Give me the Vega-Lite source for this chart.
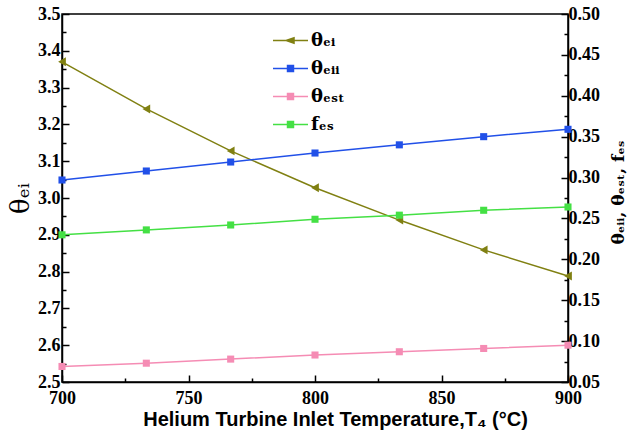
{
  "$schema": "https://vega.github.io/schema/vega-lite/v6.json",
  "autosize": {"type": "none"},
  "padding": {"left": 62, "top": 14, "right": 72, "bottom": 59},
  "width": 506,
  "height": 368,
  "background": "white",
  "config": {
    "view": {"stroke": "black", "strokeWidth": 1.5},
    "axis": {
      "domainColor": "black", "domainWidth": 1.5,
      "tickColor": "black", "tickWidth": 1.5,
      "labelFont": "Liberation Serif", "labelFontWeight": "bold", "labelFontSize": 18, "labelColor": "black",
      "labelFlush": false, "titleColor": "black", "grid": false
    }
  },
  "data": {"values": [
    {"T": 700, "series": "θₑᵢ", "v": 3.370},
    {"T": 733.33, "series": "θₑᵢ", "v": 3.242},
    {"T": 766.67, "series": "θₑᵢ", "v": 3.128},
    {"T": 800, "series": "θₑᵢ", "v": 3.028},
    {"T": 833.33, "series": "θₑᵢ", "v": 2.940},
    {"T": 866.67, "series": "θₑᵢ", "v": 2.859},
    {"T": 900, "series": "θₑᵢ", "v": 2.788},
    {"T": 700, "series": "θₑᵢᵢ", "v": 0.297},
    {"T": 733.33, "series": "θₑᵢᵢ", "v": 0.308},
    {"T": 766.67, "series": "θₑᵢᵢ", "v": 0.319},
    {"T": 800, "series": "θₑᵢᵢ", "v": 0.330},
    {"T": 833.33, "series": "θₑᵢᵢ", "v": 0.340},
    {"T": 866.67, "series": "θₑᵢᵢ", "v": 0.350},
    {"T": 900, "series": "θₑᵢᵢ", "v": 0.359},
    {"T": 700, "series": "θₑₛₜ", "v": 0.069},
    {"T": 733.33, "series": "θₑₛₜ", "v": 0.073},
    {"T": 766.67, "series": "θₑₛₜ", "v": 0.078},
    {"T": 800, "series": "θₑₛₜ", "v": 0.083},
    {"T": 833.33, "series": "θₑₛₜ", "v": 0.087},
    {"T": 866.67, "series": "θₑₛₜ", "v": 0.091},
    {"T": 900, "series": "θₑₛₜ", "v": 0.095},
    {"T": 700, "series": "fₑₛ", "v": 0.230},
    {"T": 733.33, "series": "fₑₛ", "v": 0.236},
    {"T": 766.67, "series": "fₑₛ", "v": 0.242},
    {"T": 800, "series": "fₑₛ", "v": 0.249},
    {"T": 833.33, "series": "fₑₛ", "v": 0.254},
    {"T": 866.67, "series": "fₑₛ", "v": 0.260},
    {"T": 900, "series": "fₑₛ", "v": 0.264}
  ]},
  "encoding": {
    "x": {
      "field": "T", "type": "quantitative",
      "scale": {"domain": [700, 900], "nice": false},
      "axis": {
        "values": [700, 725, 750, 775, 800, 825, 850, 875, 900],
        "labelExpr": "datum.value % 50 === 0 ? datum.label : ''",
        "tickSize": {"condition": {"test": "datum.value % 50 !== 0", "value": -4}, "value": -7},
        "labelPadding": 14,
        "title": "Helium Turbine Inlet Temperature,T₄ (°C)",
        "titleFont": "Liberation Sans", "titleFontWeight": "bold", "titleFontSize": 20,
        "titleX": 273, "titlePadding": 2
      }
    },
    "color": {
      "field": "series", "type": "nominal",
      "scale": {"domain": ["θₑᵢ", "θₑᵢᵢ", "θₑₛₜ", "fₑₛ"], "range": ["#808012", "#2150E8", "#F58CB4", "#44E044"]},
      "legend": {
        "title": null, "orient": "none", "legendX": 210, "legendY": 8,
        "padding": 0, "rowPadding": -1, "symbolSize": 1225, "symbolStrokeWidth": 1.5,
        "symbolType": "square",
        "labelFont": "DejaVu Serif", "labelFontWeight": "bold", "labelFontSize": 18, "labelColor": "black",
        "labelOffset": 2,
        "encode": {"symbols": {"update": {
          "shape": {"signal": "datum.value === 'θₑᵢ' ? 'M-1,0H-0.25M0.2,0H1M-0.25,0L0.2,-0.16L0.2,0.16Z' : 'M-1,0H-0.17M0.17,0H1M-0.17,-0.17H0.17V0.17H-0.17Z'"}
        }}}
      }
    }
  },
  "layer": [
    {
      "transform": [{"filter": "datum.series === 'θₑᵢ'"}],
      "encoding": {
        "y": {
          "field": "v", "type": "quantitative",
          "scale": {"domain": [2.5, 3.5], "nice": false, "zero": false},
          "axis": {
            "orient": "left",
            "values": [2.5, 2.55, 2.6, 2.65, 2.7, 2.75, 2.8, 2.85, 2.9, 2.95, 3.0, 3.05, 3.1, 3.15, 3.2, 3.25, 3.3, 3.35, 3.4, 3.45, 3.5],
            "format": ".1f",
            "labelExpr": "abs(datum.value*10 - round(datum.value*10)) < 0.01 ? datum.label : ''",
            "tickSize": {"condition": {"test": "abs(datum.value*10 - round(datum.value*10)) > 0.01", "value": -4}, "value": -7},
            "labelPadding": 9,
            "title": "θₑᵢ", "titleFont": "DejaVu Serif", "titleFontSize": 26, "titleFontWeight": "normal",
            "titlePadding": 4
          }
        }
      },
      "layer": [
        {"mark": {"type": "line", "strokeWidth": 1.5}},
        {"mark": {"type": "point", "shape": "triangle-left", "filled": true, "opacity": 1, "size": 80}}
      ]
    },
    {
      "transform": [{"filter": "datum.series !== 'θₑᵢ'"}],
      "encoding": {
        "y": {
          "field": "v", "type": "quantitative",
          "scale": {"domain": [0.05, 0.5], "nice": false, "zero": false},
          "axis": {
            "orient": "right",
            "values": [0.05, 0.075, 0.1, 0.125, 0.15, 0.175, 0.2, 0.225, 0.25, 0.275, 0.3, 0.325, 0.35, 0.375, 0.4, 0.425, 0.45, 0.475, 0.5],
            "format": ".2f",
            "labelExpr": "abs(datum.value*20 - round(datum.value*20)) < 0.01 ? datum.label : ''",
            "tickSize": {"condition": {"test": "abs(datum.value*20 - round(datum.value*20)) > 0.01", "value": -4}, "value": -7},
            "labelPadding": 7,
            "title": "θₑᵢᵢ, θₑₛₜ, fₑₛ", "titleFont": "DejaVu Serif", "titleFontSize": 17, "titleFontWeight": "bold",
            "titleAngle": 270, "titleBaseline": "top", "titleAlign": "center", "titlePadding": 11, "titleY": 178
          }
        }
      },
      "layer": [
        {"mark": {"type": "line", "strokeWidth": 1.5}},
        {"mark": {"type": "point", "shape": "square", "filled": true, "opacity": 1, "size": 50}}
      ]
    }
  ],
  "resolve": {"scale": {"y": "independent"}}
}
